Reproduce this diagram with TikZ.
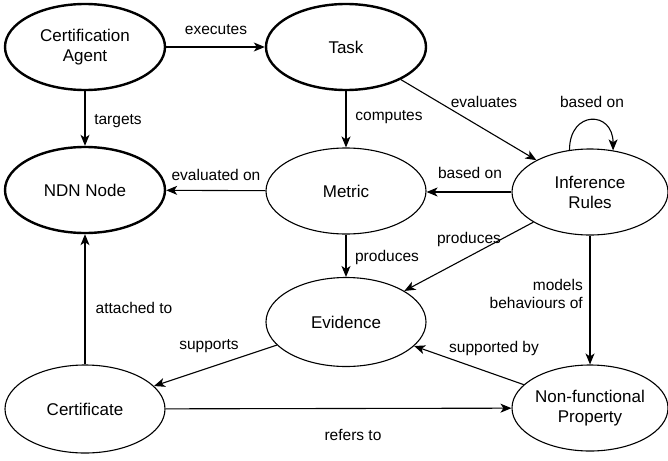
\documentclass[tikz,border=0pt]{standalone}
\usepackage{fontspec}
\setmainfont{Liberation Sans}
\usetikzlibrary{arrows.meta,shapes.geometric}
\begin{document}
\begin{tikzpicture}[x=1pt,y=-1pt,
  ent/.style={draw=black,ellipse,line width=1.1pt,minimum width=160pt,minimum height=86pt,inner sep=0pt,align=center,font=\fontsize{17}{20}\selectfont},
  strong/.style={ent,line width=2.4pt},
  rel/.style={draw=black,line width=1.1pt,-{Stealth[length=11pt,width=9pt,inset=3pt]}},
  lab/.style={font=\fontsize{15.5}{18}\selectfont,inner sep=0pt,align=center}]
\useasboundingbox (0,0) rectangle (668,460);
\node[strong] (ca) at (85,47) {Certification\\Agent};
\node[strong] (task) at (346,47) {Task};
\node[strong] (ndn) at (85,190) {NDN Node};
\node[ent] (met) at (346,191) {Metric};
\node[ent,minimum width=156pt] (inf) at (590,192) {Inference\\Rules};
\node[ent,minimum height=89pt] (evi) at (346,322) {Evidence};
\node[ent,minimum height=88pt] (cert) at (85,409) {Certificate};
\node[ent,minimum width=156pt] (nfp) at (590,408) {Non-functional\\Property};

\draw[rel] (ca) -- (task);
\draw[rel] (ca) -- (ndn);
\draw[rel] (task) -- (met);
\draw[rel] (task) -- (inf);
\draw[rel] (inf.116) .. controls +(0,-40) and +(0,-40) .. (inf.61);
\draw[rel] (inf.west) -- (met.east |- inf.west);
\draw[rel] (met) -- (ndn);
\draw[rel] (met) -- (evi);
\draw[rel] (inf) -- (evi);
\draw[rel] (inf) -- (nfp);
\draw[rel] (evi) -- (cert);
\draw[rel] (nfp) -- (evi);
\draw[rel] (cert) -- (ndn);
\draw[rel] (cert) -- (nfp);

\node[lab] (l1) at (216,30) {executes};
\node[lab] (l2) at (118,121) {targets};
\node[lab] (l3) at (216,175) {evaluated on};
\node[lab] (l4) at (389,117) {computes};
\node[lab] (l5) at (484,102) {evaluates};
\node[lab] (l6) at (592,102) {based on};
\node[lab] (l7) at (470,173) {based on};
\node[lab] (l8) at (387,257) {produces};
\node[lab] (l9) at (469,239) {produces};
\node[lab,align=right,anchor=east] (l10) at (583,294) {models\\behaviours of};
\node[lab] (l11) at (494,348) {supported by};
\node[lab] (l12) at (209,346) {supports};
\node[lab] (l13) at (134,308) {attached to};
\node[lab] (l14) at (353,435) {refers to};
\end{tikzpicture}
\end{document}
